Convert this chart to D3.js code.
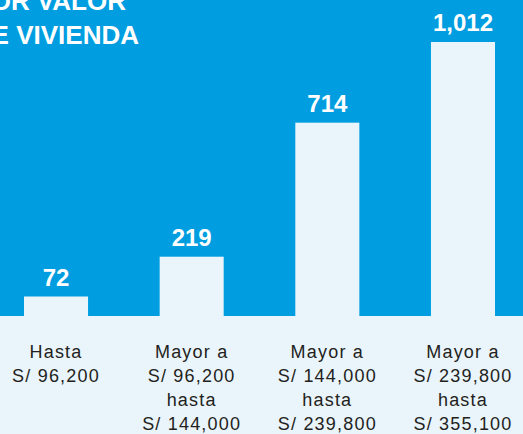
<!DOCTYPE html>
<html>
<head>
<meta charset="utf-8">
<script src="https://cdn.jsdelivr.net/npm/d3@7"></script>
<style>
body{margin:0;padding:0;overflow:hidden;background:#eaf4fb}
svg{display:block}
</style>
</head>
<body>
<svg id="chart" width="523" height="434"></svg>
<script>
// datos
const categorias=[
  ["Hasta","S/ 96,200"],
  ["Mayor a","S/ 96,200","hasta","S/ 144,000"],
  ["Mayor a","S/ 144,000","hasta","S/ 239,800"],
  ["Mayor a","S/ 239,800","hasta","S/ 355,100"]
]
const valores=[72,219,714,1012]
const titulo=["POR VALOR","DE VIVIENDA"]

const W=523,H=434
const base=316
const azul="#009ee0", claro="#eaf4fb"

const svg=d3.select("#chart")

svg.append("rect").attr("x",0).attr("y",0).attr("width",W).attr("height",base).attr("fill",azul)
svg.append("rect").attr("x",0).attr("y",base).attr("width",W).attr("height",H-base).attr("fill",claro)

const x=d3.scaleBand()
  .domain(d3.range(valores.length))
  .range([24,495])
  .paddingInner(0.528)
  .paddingOuter(0)

const y=d3.scaleLinear()
  .domain([0,d3.max(valores)])
  .range([base,42])

svg.selectAll("rect.bar")
  .data(valores)
  .join("rect")
  .attr("class","bar")
  .attr("x",(d,i)=>x(i))
  .attr("y",d=>y(d))
  .attr("width",x.bandwidth())
  .attr("height",d=>base-y(d))
  .attr("fill",claro)

svg.selectAll("text.val")
  .data(valores)
  .join("text")
  .attr("class","val")
  .attr("x",(d,i)=>x(i)+x.bandwidth()/2)
  .attr("y",d=>y(d)-11)
  .attr("text-anchor","middle")
  .attr("fill","#fff")
  .attr("font-family","Liberation Sans, Arial, sans-serif")
  .attr("font-weight","bold")
  .attr("font-size",24)
  .text(d=>d3.format(",")(d))

const cat=svg.selectAll("text.cat")
  .data(categorias)
  .join("text")
  .attr("class","cat")
  .attr("text-anchor","middle")
  .attr("fill","#231f20")
  .attr("font-family","Liberation Sans, Arial, sans-serif")
  .attr("font-size",18)
  .attr("letter-spacing","1.2px")

cat.selectAll("tspan")
  .data((d,i)=>d.map(t=>({t,i})))
  .join("tspan")
  .attr("x",d=>x(d.i)+x.bandwidth()/2)
  .attr("y",(d,j)=>358+j*24)
  .text(d=>d.t)

// titulo cortado a la izquierda
svg.append("g").selectAll("text")
  .data(titulo)
  .join("text")
  .attr("x",(d,i)=>i==0?126:139)
  .attr("y",(d,i)=>10+i*34)
  .attr("text-anchor","end")
  .attr("fill","#fff")
  .attr("font-family","Liberation Sans, Arial, sans-serif")
  .attr("font-weight","bold")
  .attr("font-size",26)
  .text(d=>d)
</script>
</body>
</html>
